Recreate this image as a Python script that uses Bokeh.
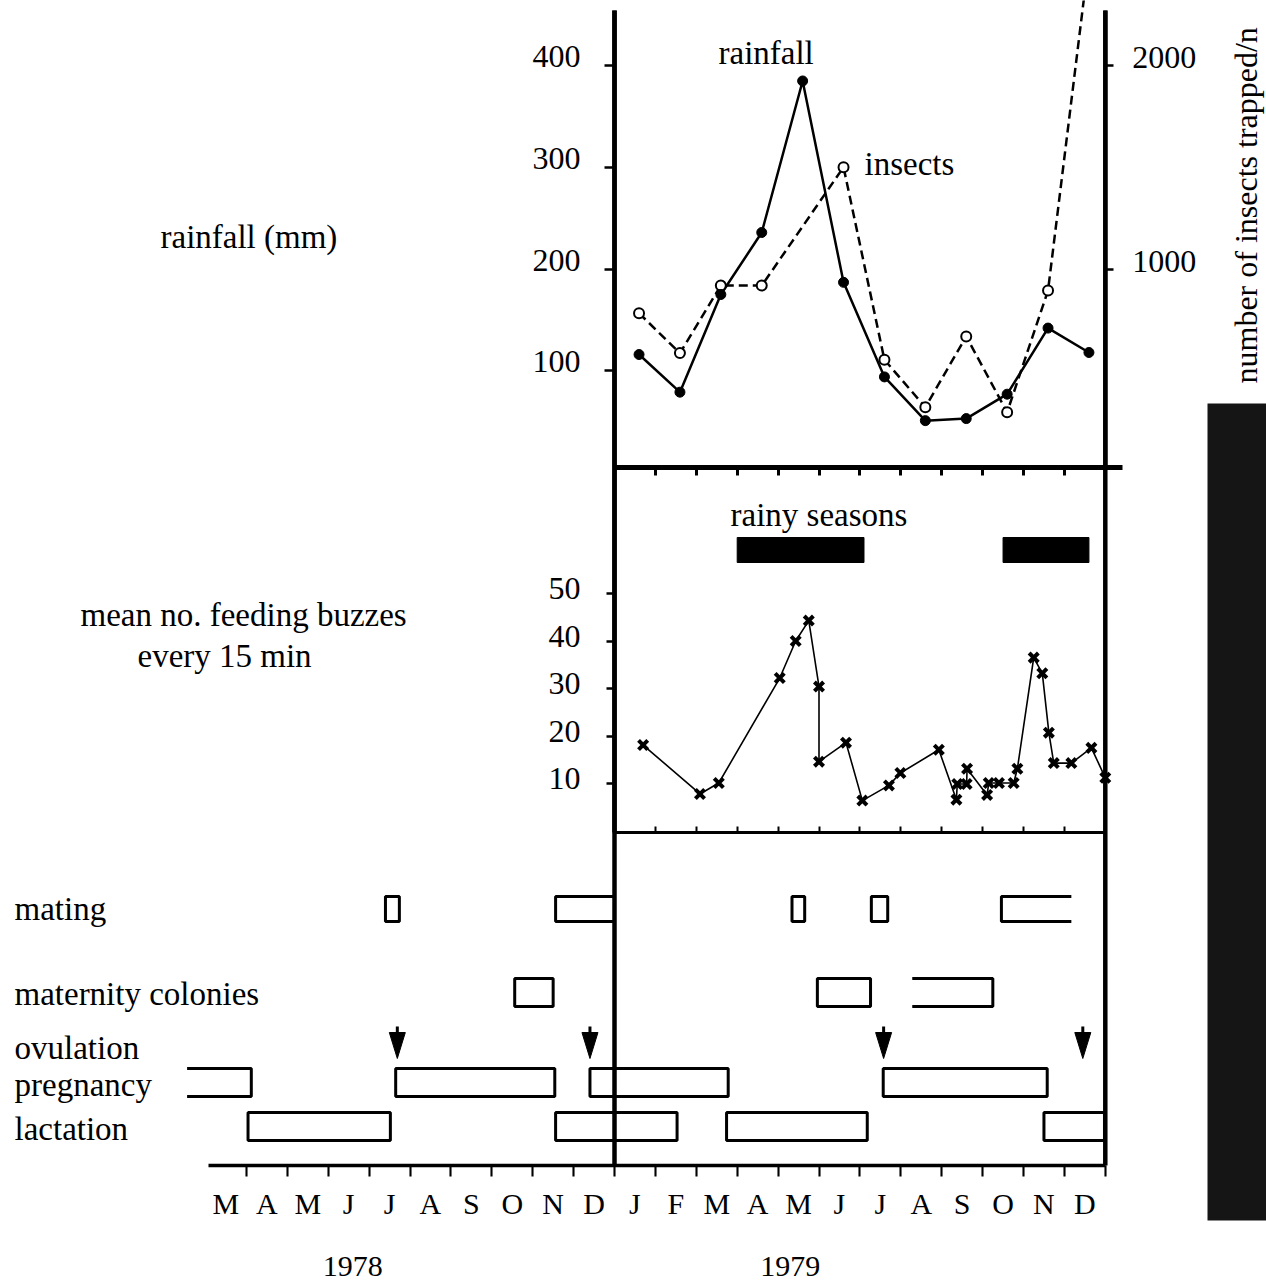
import math
from bokeh.plotting import figure
from bokeh.models import Range1d, LinearAxis, FixedTicker, CustomJSTickFormatter
from bokeh.core.properties import value
from bokeh.embed import file_html
from bokeh.resources import INLINE

# ------------------------------------------------------------------ data
# x axis: months counted from 1 March 1978 (0) to 31 Dec 1979 (22)
month_letters = ["M", "A", "M", "J", "J", "A", "S", "O", "N", "D",
                 "J", "F", "M", "A", "M", "J", "J", "A", "S", "O", "N", "D"]
year_labels = ["1978", "1979"]
year_label_pos = [3.6, 14.3]

# monthly values for 1979, plotted at mid-month (Jan 1979 starts at month 10)
rain_x = [10.6, 11.6, 12.6, 13.6, 14.6, 15.6, 16.6, 17.6, 18.6, 19.6, 20.6, 21.6]
rainfall_mm = [116, 79, 175, 236, 385, 187, 94, 51, 53, 77, 142, 118]
insect_x = [10.6, 11.6, 12.6, 13.6, 15.6, 16.6, 17.6, 18.6, 19.6, 20.6, 21.6]
insects_trapped = [783, 587, 919, 919, 1501, 554, 321, 669, 296, 895, 2530]

# mean number of feeding buzzes every 15 min (survey dates in months)
buzz_x = [10.70, 12.09, 12.55, 14.04, 14.43, 14.75, 15.00, 15.00, 15.66, 16.06,
          16.71, 16.99, 17.93, 18.36, 18.38, 18.61, 18.62, 19.11, 19.15, 19.40,
          19.76, 19.85, 20.25, 20.46, 20.62, 20.74, 21.17, 21.66, 22.00]
buzz_mean = [18.1, 7.8, 10.1, 32.2, 40.0, 44.3, 30.4, 14.6, 18.6, 6.4,
             9.6, 12.2, 17.1, 6.6, 9.9, 9.9, 13.1, 7.6, 10.1, 10.1,
             10.1, 13.1, 36.5, 33.2, 20.7, 14.3, 14.3, 17.5, 11.2]

rainy_start = [13.0, 19.5]
rainy_end = [16.1, 21.6]

# reproductive phenology: periods (start, end) and which side is left open
mating_start = [4.40, 8.56, 14.34, 16.28, 19.46]
mating_end = [4.74, 10.0, 14.65, 16.68, 21.17]
mating_open = [None, None, None, None, "right"]
maternity_start = [7.56, 14.96, 17.28]
maternity_end = [8.50, 16.26, 19.25]
maternity_open = [None, None, "left"]
ovulation = [4.69, 9.40, 16.58, 21.45]
pregnancy_start = [-0.45, 4.65, 9.40, 16.57]
pregnancy_end = [1.12, 8.54, 12.78, 20.58]
pregnancy_open = ["left", None, None, None]
lactation_start = [1.04, 8.56, 12.74, 20.50]
lactation_end = [4.52, 11.53, 16.18, 21.98]
lactation_open = [None, None, None, None]

rainfall_ticks = [100, 200, 300, 400]
insect_ticks = [1000, 2000]
buzz_ticks = [10, 20, 30, 40, 50]

# ------------------------------------------------------------------ layout
W, H = 1266, 1282
X0, KX = 205.0, 40.9          # pixel of month 0 and pixels per month
def mx(px):
    return (px - X0) / KX

RAIN_Y0, RAIN_K = 472.0, 1.017  # pixel of 0 mm and pixels per mm
INS_PER_MM = 5.0
BUZZ_Y0, BUZZ_K = 830.5, 4.75
TOP, DIV1, DIV2, BASE = 10, 467, 832, 1165
Y1979, YEND = 10.0, 22.0

FONT = "Liberation Serif"
FS = "33px"
TXT_DY = -11   # baseline correction for text glyphs

def rain_v(py, shift=0.0):
    return (RAIN_Y0 - shift - py) / RAIN_K

def buzz_v(py, shift=0.0):
    return (BUZZ_Y0 - shift - py) / BUZZ_K

p = figure(width=W, height=H, x_range=Range1d(mx(0), mx(W)), y_range=Range1d(H, 0),
           output_backend="svg", toolbar_location=None,
           x_axis_location=None, y_axis_location=None, min_border=0,
           outline_line_color=None, background_fill_color="white",
           border_fill_color="white")
p.grid.visible = False

p.extra_y_ranges = {
    "rain": Range1d(rain_v(H), rain_v(0)),
    "rain_lbl": Range1d(rain_v(H, 9), rain_v(0, 9)),
    "ins": Range1d(rain_v(H) * INS_PER_MM, rain_v(0) * INS_PER_MM),
    "ins_lbl": Range1d(rain_v(H, 8) * INS_PER_MM, rain_v(0, 8) * INS_PER_MM),
    "buzz": Range1d(buzz_v(H), buzz_v(0)),
    "buzz_lbl": Range1d(buzz_v(H, 5), buzz_v(0, 5)),
}

BLANK = CustomJSTickFormatter(code="return ''")

def add_axis(side, loc, ticks, rng=None, bounds="auto", line_w=0, tick_out=0,
             tick_in=0, labels=False, standoff=5, font_size="32px", formatter=None):
    kw = {}
    if rng is not None:
        kw["y_range_name"] = rng
    ax = LinearAxis(fixed_location=loc, ticker=FixedTicker(ticks=ticks, minor_ticks=[]),
                    bounds=bounds, **kw)
    if line_w:
        ax.axis_line_width = line_w
        ax.axis_line_color = "black"
    else:
        ax.axis_line_color = None
    if tick_out or tick_in:
        ax.major_tick_out = tick_out
        ax.major_tick_in = tick_in
        ax.major_tick_line_width = max(2.0, line_w * 0.6)
        ax.major_tick_line_color = "black"
    else:
        ax.major_tick_out = 0
        ax.major_tick_in = 0
        ax.major_tick_line_color = None
    ax.minor_tick_line_color = None
    if labels:
        if formatter is not None:
            ax.formatter = formatter
        ax.major_label_text_font = FONT
        ax.major_label_text_font_size = font_size
        ax.major_label_text_color = "black"
        ax.major_label_standoff = standoff
    else:
        ax.formatter = BLANK
    p.add_layout(ax, side)
    return ax

# rainfall axis (left, top panel)
add_axis("left", Y1979, rainfall_ticks, rng="rain", bounds=(rain_v(DIV1), rain_v(TOP)),
         line_w=4.5, tick_out=10)
add_axis("left", Y1979, rainfall_ticks, rng="rain_lbl", labels=True, standoff=34)
# insects axis (right, top panel)
add_axis("right", YEND, insect_ticks, rng="ins",
         bounds=(rain_v(DIV1) * INS_PER_MM, rain_v(TOP) * INS_PER_MM), line_w=4, tick_out=8)
add_axis("right", YEND, insect_ticks, rng="ins_lbl", labels=True, standoff=27)
# feeding buzz axis (left, middle panel)
add_axis("left", Y1979, buzz_ticks, rng="buzz", bounds=(buzz_v(DIV2), buzz_v(DIV1)),
         line_w=4.5, tick_out=8)
add_axis("left", Y1979, buzz_ticks, rng="buzz_lbl", labels=True, standoff=34)
# panel dividers with month ticks
add_axis("below", DIV1, list(range(11, 23)), bounds=(Y1979, mx(1122)), line_w=5, tick_out=8)
add_axis("below", DIV2, list(range(11, 22)), bounds=(Y1979, YEND), line_w=3, tick_in=6)
# month axis
add_axis("below", BASE, list(range(1, 23)), bounds=(mx(208), YEND), line_w=3.5, tick_out=11)
add_axis("below", BASE, [m + 0.5 for m in range(len(month_letters))], labels=True,
         standoff=21, font_size="30px",
         formatter=CustomJSTickFormatter(args=dict(letters=month_letters),
                                         code="return letters[Math.floor(tick)];"))

# frame lines
p.segment(x0=[Y1979, YEND], y0=[TOP, TOP], x1=[Y1979, YEND], y1=[BASE, BASE],
          line_color="black", line_width=4.5)

# ---- top panel: rainfall and insects
p.line(insect_x, insects_trapped, y_range_name="ins", line_color="black",
       line_width=2.5, line_dash="9 5")
p.line(rain_x, rainfall_mm, y_range_name="rain", line_color="black", line_width=2.5)
p.scatter(insect_x, insects_trapped, y_range_name="ins", marker="circle", size=10,
          fill_color="white", line_color="black", line_width=2)
p.scatter(rain_x, rainfall_mm, y_range_name="rain", marker="circle", size=10,
          fill_color="black", line_color="black")

# ---- middle panel: rainy seasons and feeding buzzes
p.quad(left=rainy_start, right=rainy_end, top=537, bottom=562, fill_color="black",
       line_color="black")
p.line(buzz_x, buzz_mean, y_range_name="buzz", line_color="black", line_width=1.6)
p.scatter(buzz_x, buzz_mean, y_range_name="buzz", marker="x", size=13,
          line_color="black", line_width=4)

# ---- bottom panel: phenology bars
rows = [
    (mating_start, mating_end, mating_open, 896, 921),
    (maternity_start, maternity_end, maternity_open, 978, 1006),
    (pregnancy_start, pregnancy_end, pregnancy_open, 1068, 1096),
    (lactation_start, lactation_end, lactation_open, 1112, 1140),
]
for starts, ends, opens, y0, y1 in rows:
    closed = [(s, e) for s, e, o in zip(starts, ends, opens) if o is None]
    if closed:
        p.quad(left=[c[0] for c in closed], right=[c[1] for c in closed], top=y0, bottom=y1,
               fill_color=None, line_color="black", line_width=3)
    xs, ys = [], []
    for s, e, o in zip(starts, ends, opens):
        if o == "right":
            xs.append([e, s, s, e]); ys.append([y0, y0, y1, y1])
        elif o == "left":
            xs.append([s, e, e, s]); ys.append([y0, y0, y1, y1])
    if xs:
        p.multi_line(xs, ys, line_color="black", line_width=3)

# ovulation arrows
hw = 8 / KX
p.segment(x0=ovulation, y0=1026, x1=ovulation, y1=1036, line_color="black", line_width=3)
p.patches([[o - hw, o + hw, o] for o in ovulation], [[1032, 1032, 1058] for _ in ovulation],
          fill_color="black", line_color="black", line_width=1)

# dark photographic edge at the right of the scan
p.quad(left=[mx(1207)], right=[mx(1280)], top=[403], bottom=[1220],
       fill_color="#151515", line_color=None)

# ---- texts
txt = dict(text_font=value(FONT), text_color="black", text_baseline="alphabetic")
labels = [
    (160, 247, "rainfall (mm)"),
    (80, 625, "mean no. feeding buzzes"),
    (137, 666, "every 15 min"),
    (14, 919, "mating"),
    (14, 1004, "maternity colonies"),
    (14, 1058, "ovulation"),
    (14, 1095, "pregnancy"),
    (14, 1139, "lactation"),
    (718, 63, "rainfall"),
    (864, 174, "insects"),
    (730, 525, "rainy seasons"),
]
p.text(x=[mx(l[0]) for l in labels], y=[l[1] + TXT_DY for l in labels],
       text=[l[2] for l in labels], text_font_size=FS, text_align="left", **txt)
p.text(x=year_label_pos, y=[1277 + TXT_DY] * 2, text=year_labels, text_font_size="30px",
       text_align="center", **txt)
p.text(x=[mx(1256 + TXT_DY)], y=[383], text=["number of insects trapped/n"],
       angle=math.pi / 2, text_font_size="32px", text_align="left", **txt)

open("out.html", "w").write(file_html(p, INLINE))
